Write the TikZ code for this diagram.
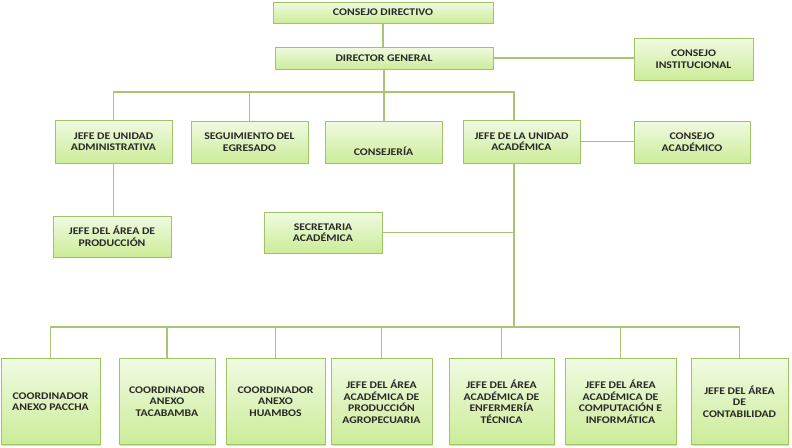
\documentclass[tikz,border=0pt]{standalone}
\usepackage{fontspec}
\usepackage{xcolor}
\usepackage{tikz}
\usetikzlibrary{
  positioning,
  shadows
}
\newfontfamily\boxfont[FakeStretch=1.15]{Carlito}
\definecolor{boxedge}{RGB}{160, 196, 100}
\definecolor{boxtop}{RGB}{240, 250, 226}
\definecolor{boxbot}{RGB}{204, 236, 152}
\definecolor{linkgreen}{RGB}{166, 198, 114}
\definecolor{inkgray}{RGB}{40, 40, 40}

\tikzset{
  orgbox/.style={draw=boxedge, line width=1pt, top color=boxtop, bottom color=boxbot,
    align=center, inner sep=2pt, text=inkgray,
    font=\boxfont\bfseries\fontsize{10.2}{11.5}\selectfont,
    drop shadow={shadow xshift=1.2pt, shadow yshift=-1.2pt, opacity=0.25, fill=black!60}},
  link/.style={draw=linkgreen, line width=1.2pt}
}

\begin{document}
\begin{tikzpicture}[x=1pt, y=-1pt]
  \useasboundingbox (0,0) rectangle (792,447);
  % top of the chart
  \node[orgbox, minimum width=220pt, minimum height=21pt] (cdir) at (383, 12.5) {CONSEJO DIRECTIVO};
  \node[orgbox, minimum width=218pt, minimum height=22pt] (dgen) at (384, 58) {DIRECTOR GENERAL};
  \node[orgbox, minimum width=119pt, minimum height=42pt] (cinst) at (693.5, 59) {CONSEJO\\INSTITUCIONAL};
  % second level
  \node[orgbox, minimum width=117pt, minimum height=43pt] (jadm) at (113.5, 141.5) {JEFE DE UNIDAD\\ADMINISTRATIVA};
  \node[orgbox, minimum width=117pt, minimum height=42pt] (segu) at (249.5, 142) {SEGUIMIENTO DEL\\EGRESADO};
  \node[orgbox, minimum width=117pt, minimum height=42pt] (cnsj) at (383.5, 142) {\strut\\[5pt]CONSEJERÍA};
  \node[orgbox, minimum width=117pt, minimum height=43pt] (jacad) at (521.5, 141.5) {JEFE DE LA UNIDAD\\ACADÉMICA};
  \node[orgbox, minimum width=116pt, minimum height=42pt] (cacad) at (692, 142) {CONSEJO\\ACADÉMICO};
  % third level
  \node[orgbox, minimum width=118pt, minimum height=41pt] (jprod) at (112, 236.5) {JEFE DEL ÁREA DE\\PRODUCCIÓN};
  \node[orgbox, minimum width=118pt, minimum height=41pt] (secr) at (323, 232.5) {SECRETARIA\\ACADÉMICA};
  % bottom row
  \node[orgbox, minimum width=99pt, minimum height=86pt] (paccha) at (50.5, 401.5) {COORDINADOR\\ANEXO PACCHA};
  \node[orgbox, minimum width=96pt, minimum height=86pt] (tacab) at (167, 401.5) {COORDINADOR\\ANEXO\\TACABAMBA};
  \node[orgbox, minimum width=99pt, minimum height=86pt] (huamb) at (275.5, 401.5) {COORDINADOR\\ANEXO\\HUAMBOS};
  \node[orgbox, minimum width=101pt, minimum height=86pt] (agro) at (381.5, 401.5) {JEFE DEL ÁREA\\ACADÉMICA DE\\PRODUCCIÓN\\AGROPECUARIA};
  \node[orgbox, minimum width=105pt, minimum height=86pt] (enfer) at (501.5, 401.5) {JEFE DEL ÁREA\\ACADÉMICA DE\\ENFERMERÍA\\TÉCNICA};
  \node[orgbox, minimum width=111pt, minimum height=86pt] (compu) at (620.5, 401.5) {JEFE DEL ÁREA\\ACADÉMICA DE\\COMPUTACIÓN E\\INFORMÁTICA};
  \node[orgbox, minimum width=97pt, minimum height=86pt] (conta) at (739.5, 401.5) {JEFE DEL ÁREA\\DE\\CONTABILIDAD};
  % helper points for the buses
  \coordinate (busA) at (0, 92);
  \coordinate (busB) at (0, 327);
  \coordinate (spine) at (514, 0);
  % connectors
  \draw[link] (cdir.south) -- (cdir.south |- dgen.north);
  \draw[link] (dgen.east) -- (dgen.east -| cinst.west);
  \draw[link] (dgen.south) -- (dgen.south |- busA) -| (jadm.north);
  \draw[link] (dgen.south |- busA) -| (segu.north);
  \draw[link] (dgen.south |- busA) -- (cnsj.north -| dgen.south);
  \draw[link] (dgen.south |- busA) -| (jacad.north -| spine);
  \draw[link] (jacad.east) -- (jacad.east -| cacad.west);
  \draw[link] (jadm.south) -- (jadm.south |- jprod.north);
  \draw[link] (secr.east) -- (secr.east -| spine);
  \draw[link] (jacad.south -| spine) -- (spine |- busB);
  \draw[link] (spine |- busB) -| (paccha.north);
  \draw[link] (spine |- busB) -| (tacab.north);
  \draw[link] (spine |- busB) -| (huamb.north);
  \draw[link] (spine |- busB) -| (agro.north);
  \draw[link] (spine |- busB) -| (enfer.north);
  \draw[link] (spine |- busB) -| (compu.north);
  \draw[link] (spine |- busB) -| (conta.north);
\end{tikzpicture}
\end{document}
